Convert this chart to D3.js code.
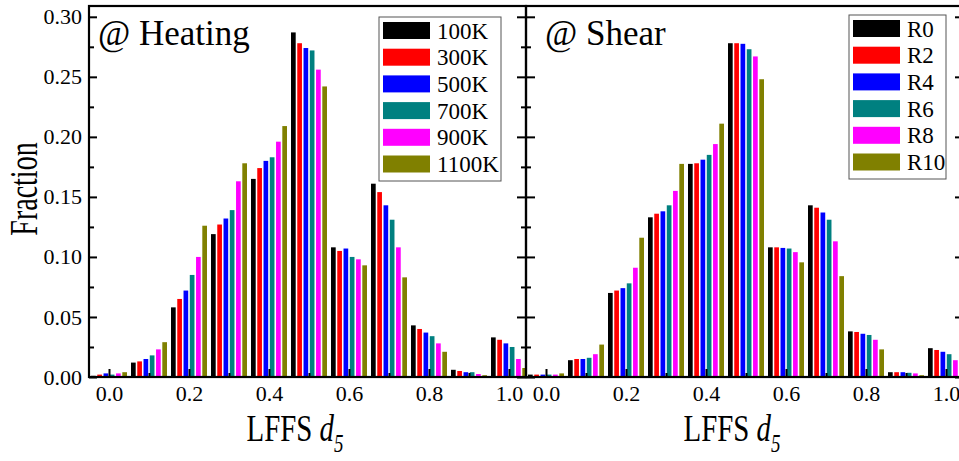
<!DOCTYPE html>
<html lang="en">
  <head>
    <meta charset="utf-8" />
    <title>LFFS d5 distributions</title>
    <script src="https://d3js.org/d3.v7.min.js"></script>
    <style>
      body { margin: 0; background: #fff; }
      text { font-family: "Liberation Serif", "Times New Roman", serif; fill: #000; }
    </style>
  </head>
  <body>
    <div id="chart"></div>
    <script>
      // bin centres of LFFS d5
      var bins = [0.0, 0.1, 0.2, 0.3, 0.4, 0.5, 0.6, 0.7, 0.8, 0.9, 1.0];
      var colors = ["#000000", "#ff0000", "#0000ff", "#008080", "#ff00ff", "#808000"];

      var heatingNames = ["100K", "300K", "500K", "700K", "900K", "1100K"];
      var heat100 = [0.001, 0.012, 0.058, 0.119, 0.165, 0.287, 0.108, 0.161, 0.043, 0.006, 0.033];
      var heat300 = [0.002, 0.013, 0.065, 0.127, 0.174, 0.278, 0.105, 0.154, 0.040, 0.005, 0.031];
      var heat500 = [0.003, 0.015, 0.072, 0.132, 0.180, 0.274, 0.107, 0.143, 0.037, 0.004, 0.028];
      var heat700 = [0.002, 0.018, 0.085, 0.139, 0.183, 0.272, 0.100, 0.131, 0.034, 0.004, 0.025];
      var heat900 = [0.003, 0.023, 0.100, 0.163, 0.196, 0.256, 0.098, 0.108, 0.028, 0.0025, 0.015];
      var heat1100 = [0.004, 0.029, 0.126, 0.178, 0.209, 0.242, 0.093, 0.083, 0.021, 0.0015, 0.0075];

      var shearNames = ["R0", "R2", "R4", "R6", "R8", "R10"];
      var shearR0 = [0.002, 0.014, 0.070, 0.133, 0.1775, 0.278, 0.108, 0.143, 0.038, 0.004, 0.024];
      var shearR2 = [0.002, 0.015, 0.072, 0.136, 0.178, 0.278, 0.108, 0.141, 0.0375, 0.004, 0.0225];
      var shearR4 = [0.002, 0.015, 0.074, 0.138, 0.181, 0.2775, 0.1075, 0.137, 0.036, 0.004, 0.021];
      var shearR6 = [0.002, 0.016, 0.078, 0.143, 0.185, 0.273, 0.107, 0.131, 0.035, 0.0035, 0.019];
      var shearR8 = [0.002, 0.019, 0.091, 0.155, 0.194, 0.267, 0.104, 0.113, 0.031, 0.003, 0.014];
      var shearR10 = [0.003, 0.027, 0.116, 0.1775, 0.211, 0.248, 0.0955, 0.084, 0.023, 0.0015, 0.007];

      var xMajor = [0.0, 0.2, 0.4, 0.6, 0.8, 1.0];
      var xMinor = [0.1, 0.3, 0.5, 0.7, 0.9];
      var yMajor = [0.0, 0.05, 0.1, 0.15, 0.2, 0.25, 0.3];
      var yMinor = [0.025, 0.075, 0.125, 0.175, 0.225, 0.275];

      var width = 959, height = 461;
      var plotTop = 6, plotBottom = 377, panelW = 437;

      var svg = d3.select("#chart").append("svg")
        .attr("width", width).attr("height", height);

      var y = d3.scaleLinear().domain([0, 0.309]).range([plotBottom, plotTop]);

      function panel(left, title, names, series, legendX, legendY, legendW, isFirst) {
        var x = d3.scaleLinear().domain([-0.05, 1.0425]).range([left, left + panelW]);
        var half = x(0.045) - x(0);
        var inner = d3.scaleBand().domain(names).range([-half, half]).paddingInner(0.25);

        var g = svg.append("g");

        // bars
        names.forEach(function (name, si) {
          g.selectAll(null)
            .data(series[si])
            .enter()
            .append("rect")
            .attr("x", function (d, i) { return x(bins[i]) + inner(name); })
            .attr("width", inner.bandwidth())
            .attr("y", function (d) { return y(d); })
            .attr("height", function (d) { return y(0) - y(d); })
            .attr("fill", colors[si]);
        });

        // bottom axis, inward ticks
        var xa = g.append("g").attr("transform", "translate(0," + plotBottom + ")")
          .call(d3.axisBottom(x).tickValues(xMajor).tickSizeInner(-8).tickSizeOuter(0)
            .tickPadding(12).tickFormat(d3.format(".1f")));
        xa.select(".domain").remove();
        xa.selectAll("text").style("font-size", "22px").attr("dy", "0.55em");
        var xm = g.append("g").attr("transform", "translate(0," + plotBottom + ")")
          .call(d3.axisBottom(x).tickValues(xMinor).tickSizeInner(-4).tickSizeOuter(0).tickFormat(""));
        xm.select(".domain").remove();

        // left axis
        var ya = g.append("g").attr("transform", "translate(" + left + ",0)")
          .call(d3.axisLeft(y).tickValues(yMajor).tickSizeOuter(0).tickSizeInner(-8)
            .tickPadding(7).tickFormat(d3.format(".2f")));
        ya.select(".domain").remove();
        ya.selectAll("text").style("font-size", "22px");
        var ym = g.append("g").attr("transform", "translate(" + left + ",0)")
          .call(d3.axisLeft(y).tickValues(yMinor).tickSizeOuter(0).tickSizeInner(-5).tickFormat(""));
        ym.select(".domain").remove();
        if (!isFirst) {
          ya.selectAll("text").remove();
          ya.selectAll("line").attr("x1", -9).attr("x2", 9);
          ym.selectAll("line").attr("x1", -5).attr("x2", 5);
          // right side ticks
          var yr = g.append("g").attr("transform", "translate(" + (left + panelW) + ",0)")
            .call(d3.axisRight(y).tickValues(yMajor).tickSizeOuter(0).tickSizeInner(-8).tickFormat(""));
          yr.select(".domain").remove();
        }
        g.selectAll(".tick line").attr("stroke", "#000").attr("stroke-width", 2);

        // frame
        g.append("rect")
          .attr("x", left).attr("y", plotTop)
          .attr("width", panelW).attr("height", plotBottom - plotTop)
          .attr("fill", "none").attr("stroke", "#000").attr("stroke-width", 2.2);

        // title in corner
        g.append("text")
          .attr("x", left + (isFirst ? 9 : 19)).attr("y", 45)
          .style("font-size", "35px")
          .text(title);

        // legend
        var rowH = 26.7;
        var lg = g.append("g").attr("transform", "translate(" + legendX + "," + legendY + ")");
        lg.append("rect")
          .attr("width", legendW).attr("height", 164)
          .attr("fill", "#fff").attr("stroke", "#555").attr("stroke-width", 1);
        names.forEach(function (name, si) {
          lg.append("rect")
            .attr("x", 4).attr("y", 5 + si * rowH)
            .attr("width", 47).attr("height", 17)
            .attr("fill", colors[si]);
          lg.append("text")
            .attr("x", 58).attr("y", 13.5 + si * rowH)
            .attr("dy", "0.35em")
            .style("font-size", "23px")
            .text(name);
        });

        // x axis title, narrowed like the original
        var xt = g.append("text")
          .attr("transform", "translate(" + (left + 206) + ",441) scale(0.76,1)")
          .attr("text-anchor", "middle")
          .style("font-size", "38px");
        xt.append("tspan").text("LFFS ");
        xt.append("tspan").style("font-style", "italic").text("d");
        xt.append("tspan").style("font-style", "italic").style("font-size", "25px")
          .attr("dy", 11).text("5");
      }

      panel(89, "@ Heating", heatingNames,
        [heat100, heat300, heat500, heat700, heat900, heat1100], 379, 17, 122, true);
      panel(526, "@ Shear", shearNames,
        [shearR0, shearR2, shearR4, shearR6, shearR8, shearR10], 849, 15, 97, false);

      svg.append("text")
        .attr("transform", "translate(37,189) rotate(-90) scale(0.7,1)")
        .attr("text-anchor", "middle")
        .style("font-size", "40px")
        .text("Fraction");
    </script>
  </body>
</html>
